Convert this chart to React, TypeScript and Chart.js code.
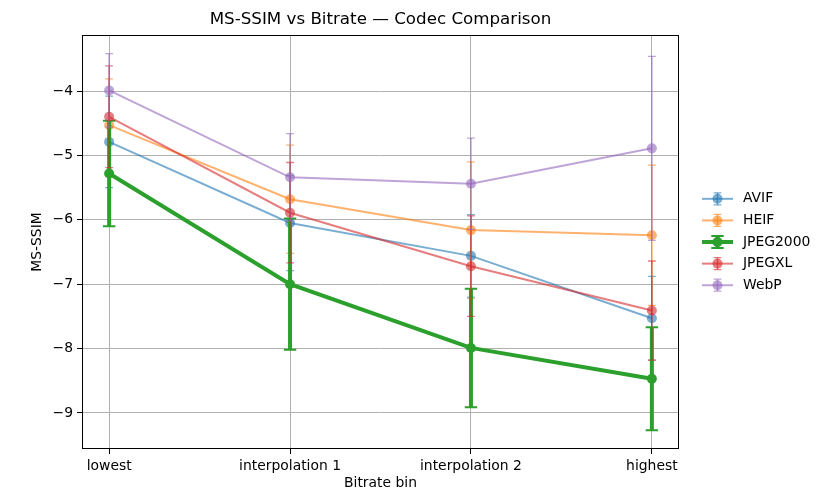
import React, { useEffect, useRef } from 'react';
import { Chart, registerables } from 'chart.js';
Chart.register(...registerables);

const categories = ['lowest', 'interpolation 1', 'interpolation 2', 'highest'];
const codecs = ['AVIF', 'HEIF', 'JPEG2000', 'JPEGXL', 'WebP'];
const colors = ['#1f77b4', '#ff7f0e', '#2ca02c', '#d62728', '#9467bd'];
const avifMean = [-4.79, -6.05, -6.56, -7.53];
const avifErr = [0.71, 0.74, 0.64, 0.65];
const heifMean = [-4.53, -5.68, -6.16, -6.24];
const heifErr = [0.72, 0.84, 1.06, 1.09];
const jpeg2000Mean = [-5.28, -7.0, -7.99, -8.47];
const jpeg2000Err = [0.82, 1.02, 0.92, 0.8];
const jpegxlMean = [-4.4, -5.89, -6.72, -7.41];
const jpegxlErr = [0.79, 0.78, 0.78, 0.77];
const webpMean = [-3.99, -5.34, -5.44, -4.89];
const webpErr = [0.57, 0.68, 0.71, 1.43];
const yTicks = [-9, -8, -7, -6, -5, -4];
const highlighted = 'JPEG2000';

const means = [avifMean, heifMean, jpeg2000Mean, jpegxlMean, webpMean];
const errs = [avifErr, heifErr, jpeg2000Err, jpegxlErr, webpErr];

function rgba(hex: string, a: number) {
  const r = parseInt(hex.slice(1, 3), 16);
  const g = parseInt(hex.slice(3, 5), 16);
  const b = parseInt(hex.slice(5, 7), 16);
  return `rgba(${r},${g},${b},${a})`;
}

function styleFor(i: number) {
  const hi = codecs[i] === highlighted;
  return {
    color: rgba(colors[i], hi ? 1 : 0.6),
    lineWidth: hi ? 4 : 2,
    errWidth: hi ? 4 : 1.5,
    capWidth: hi ? 2 : 1.3,
    cap: hi ? 6.2 : 3.9,
    radius: hi ? 5 : 5,
  };
}

const FONT = "'DejaVu Sans', sans-serif";

function drawErr(ctx: any, x: number, y1: number, y2: number, st: any) {
  ctx.lineWidth = st.errWidth;
  ctx.beginPath();
  ctx.moveTo(x, y1);
  ctx.lineTo(x, y2);
  ctx.stroke();
  ctx.lineWidth = st.capWidth;
  ctx.beginPath();
  ctx.moveTo(x - st.cap, y1);
  ctx.lineTo(x + st.cap, y1);
  ctx.moveTo(x - st.cap, y2);
  ctx.lineTo(x + st.cap, y2);
  ctx.stroke();
}

const errorBarPlugin = {
  id: 'errbars',
  beforeDatasetDraw(chart: any, args: any) {
    const i = args.index;
    const st = styleFor(i);
    const ctx = chart.ctx;
    const xs = chart.scales.x;
    const ys = chart.scales.y;
    const ca = chart.chartArea;
    ctx.save();
    ctx.beginPath();
    ctx.rect(ca.left, ca.top, ca.right - ca.left, ca.bottom - ca.top);
    ctx.clip();
    ctx.strokeStyle = st.color;
    means[i].forEach((m, j) => {
      const x = xs.getPixelForValue(j);
      const y1 = ys.getPixelForValue(m + errs[i][j]);
      const y2 = ys.getPixelForValue(m - errs[i][j]);
      drawErr(ctx, x, y1, y2, st);
    });
    ctx.restore();
  },
};

const framePlugin = {
  id: 'frame',
  afterDraw(chart: any) {
    const ctx = chart.ctx;
    const ca = chart.chartArea;
    ctx.save();
    ctx.strokeStyle = '#000';
    ctx.lineWidth = 1;
    const l = Math.round(ca.left) + 0.5;
    const t = Math.round(ca.top) + 0.5;
    const r = Math.round(ca.right) - 0.5;
    const b = Math.round(ca.bottom) - 0.5;
    ctx.strokeRect(l, t, r - l, b - t);

    // legend
    const cy = (ca.top + ca.bottom) / 2;
    const gap = 21.6;
    const x0 = ca.right + 23;
    const x1 = ca.right + 54;
    const xm = (x0 + x1) / 2;
    ctx.font = `13.9px ${FONT}`;
    ctx.textBaseline = 'middle';
    ctx.textAlign = 'left';
    codecs.forEach((name, k) => {
      const st = styleFor(k);
      const y = cy + (k - 2) * gap;
      ctx.strokeStyle = st.color;
      ctx.lineWidth = st.lineWidth;
      ctx.beginPath();
      ctx.moveTo(x0, y);
      ctx.lineTo(x1, y);
      ctx.stroke();
      drawErr(ctx, xm, y - 6, y + 6, st);
      ctx.fillStyle = st.color;
      ctx.beginPath();
      ctx.arc(xm, y, st.radius, 0, Math.PI * 2);
      ctx.fill();
      ctx.fillStyle = '#000';
      ctx.fillText(name, ca.right + 64, y);
    });
    ctx.restore();
  },
};

export default function App() {
  const ref = useRef<HTMLCanvasElement>(null);
  useEffect(() => {
    if (!ref.current) return;
    Chart.defaults.font.family = FONT;
    const datasets = codecs.map((name, i) => {
      const st = styleFor(i);
      return {
        label: name,
        data: means[i].map((y, j) => ({ x: j, y })),
        borderColor: st.color,
        backgroundColor: st.color,
        pointBackgroundColor: st.color,
        pointBorderWidth: 0,
        pointRadius: st.radius,
        pointHoverRadius: st.radius,
        borderWidth: st.lineWidth,
        tension: 0,
        order: codecs.length - i,
      };
    });
    const chart = new Chart(ref.current, {
      type: 'line',
      data: { datasets },
      plugins: [errorBarPlugin, framePlugin],
      options: {
        animation: false,
        responsive: false,
        layout: { padding: { left: 0, right: 159, top: 0, bottom: 0 } },
        plugins: {
          legend: { display: false },
          tooltip: { enabled: false },
          title: {
            display: true,
            text: 'MS-SSIM vs Bitrate — Codec Comparison',
            font: { size: 16.7, weight: 'normal', family: FONT },
            color: '#000',
            padding: { top: 10, bottom: 5 },
            fullSize: false,
          },
        },
        scales: {
          x: {
            type: 'linear',
            min: -0.15,
            max: 3.15,
            afterBuildTicks: (s: any) => {
              s.ticks = categories.map((_, i) => ({ value: i }));
            },
            afterFit: (s: any) => {
              s.height = 43;
            },
            ticks: {
              callback: (v: any) => categories[Math.round(Number(v))],
              font: { size: 13.9, family: FONT },
              color: '#000',
              padding: 4,
              maxRotation: 0,
              autoSkip: false,
            },
            grid: { color: '#b0b0b0', lineWidth: 1, tickColor: '#000', tickLength: 5, drawTicks: true },
            border: { display: false },
            title: {
              display: true,
              text: 'Bitrate bin',
              font: { size: 13.9, family: FONT },
              color: '#000',
              padding: { top: 0, bottom: 0 },
            },
          },
          y: {
            type: 'linear',
            min: -9.56,
            max: -3.13,
            afterBuildTicks: (s: any) => {
              s.ticks = yTicks.map((v) => ({ value: v }));
            },
            afterFit: (s: any) => {
              s.width = 82;
            },
            ticks: {
              callback: (v: any) => String(v).replace('-', '\u2212'),
              font: { size: 13.9, family: FONT },
              color: '#000',
              padding: 4,
            },
            grid: { color: '#b0b0b0', lineWidth: 1, tickColor: '#000', tickLength: 5, drawTicks: true },
            border: { display: false },
            title: {
              display: true,
              text: 'MS-SSIM',
              font: { size: 13.9, family: FONT },
              color: '#000',
              padding: { top: 29, bottom: 0 },
            },
          },
        },
      } as any,
    });
    return () => chart.destroy();
  }, []);
  return (
    <div style={{ position: 'fixed', left: 0, top: 0, width: 838, height: 492, background: '#fff' }}>
      <canvas ref={ref} width={838} height={492} style={{ display: 'block' }} />
    </div>
  );
}
